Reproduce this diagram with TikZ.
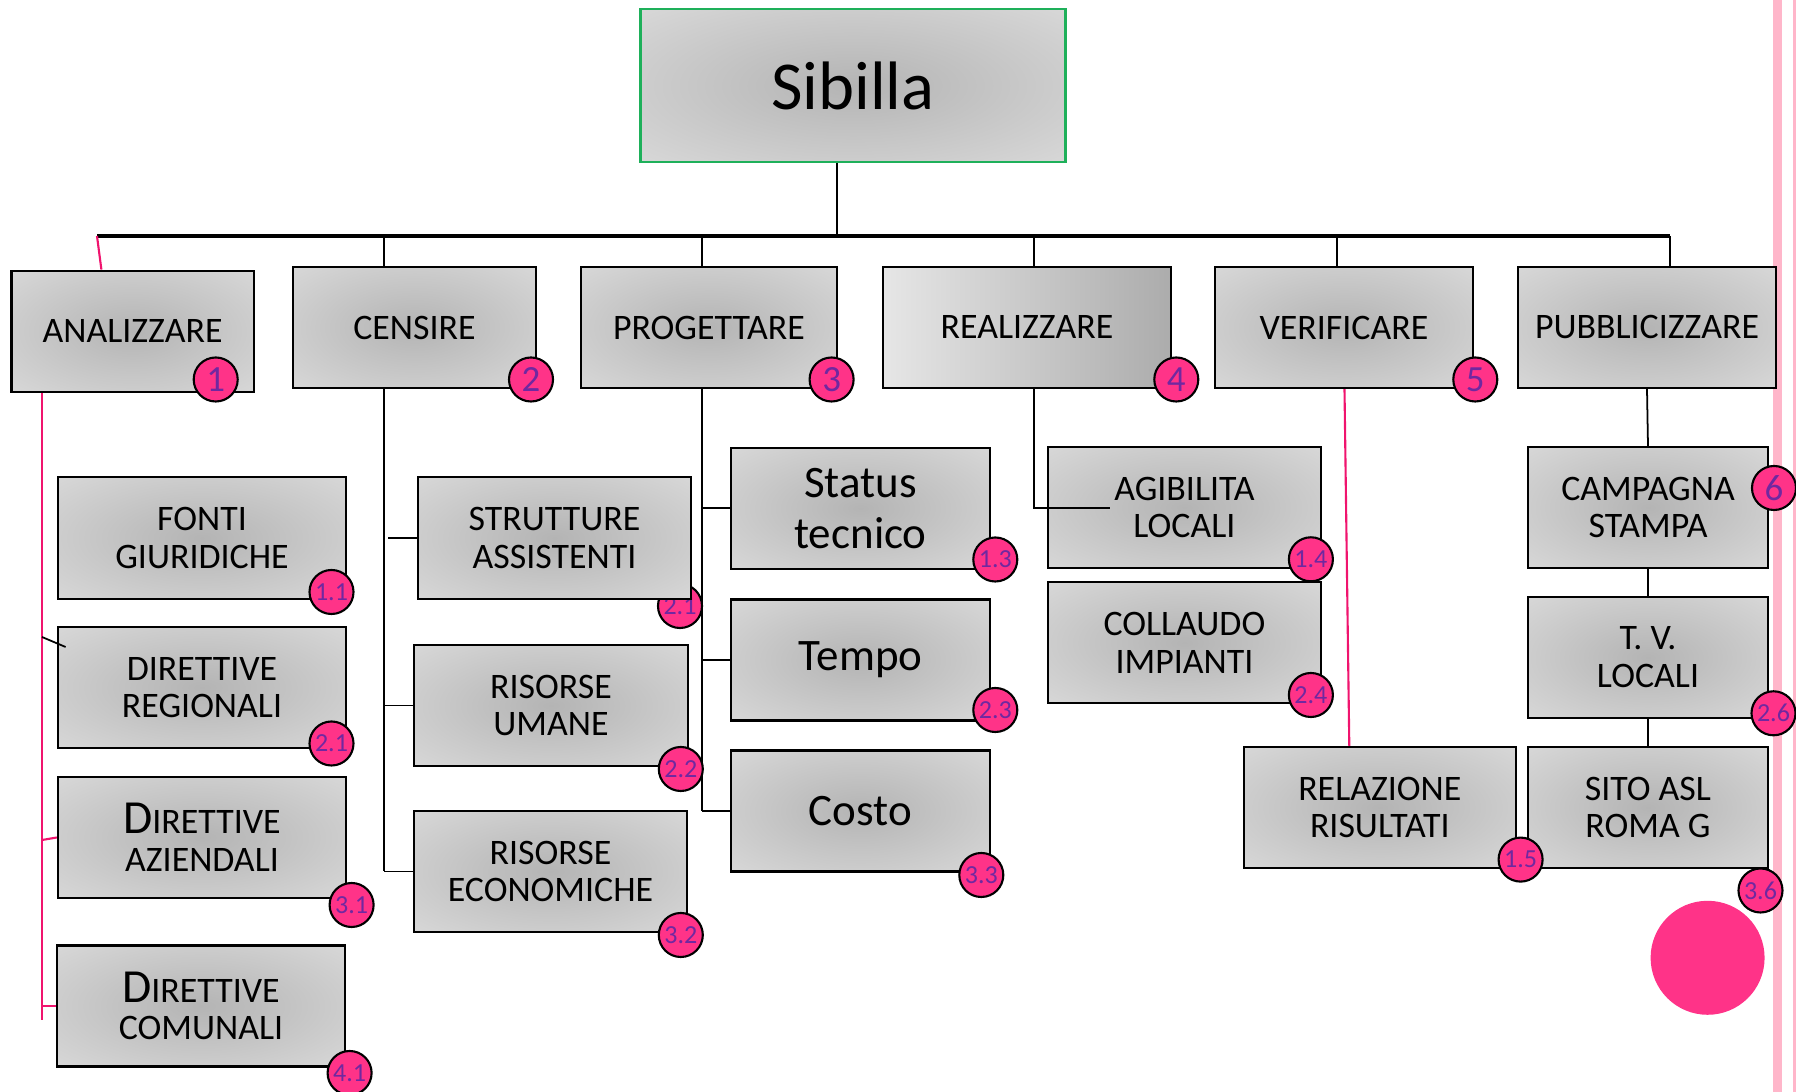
\documentclass[tikz,border=0pt]{standalone}
\usepackage{fontspec}
\setmainfont{Carlito}
\usepackage{tikz}
\usetikzlibrary{positioning,shapes}
\definecolor{boxmid}{RGB}{180,180,180}
\definecolor{boxedge}{RGB}{230,230,230}
\definecolor{boxdark}{RGB}{172,172,172}
\definecolor{hotpink}{RGB}{255,51,136}
\definecolor{linkpink}{RGB}{240,20,110}
\definecolor{stripepink}{RGB}{255,182,202}
\definecolor{numpurple}{RGB}{112,40,160}
\definecolor{sibgreen}{RGB}{30,176,90}
\pgfdeclareradialshading{boxglow}{\pgfpointorigin}{color(0bp)=(boxmid); color(50bp)=(boxedge)}

\begin{document}
\begin{tikzpicture}[
    x=0.01cm, y=-0.01cm,
    box/.style={draw=black, line width=0.6pt, shade, shading=boxglow, inner sep=0pt, align=center,
        minimum height=1.21cm, font=\fontsize{10.2}{10.7}\selectfont},
    bigbox/.style={box, font=\fontsize{12.8}{14.4}\selectfont},
    badge/.style={circle, draw=black, line width=0.6pt, fill=hotpink, text=numpurple, inner sep=0pt,
        minimum size=0.44cm, font=\fontsize{10.5}{11}\selectfont},
    subbadge/.style={badge, font=\fontsize{7.4}{8}\selectfont},
    link/.style={draw=black, line width=0.5pt},
    pinklink/.style={draw=linkpink, line width=0.6pt}
]
    \useasboundingbox (0,0) rectangle (1796,1092);
    \fill[stripepink] (1773,0) rectangle (1782,1092);
    \fill[stripepink] (1792.5,0) rectangle (1796,1092);
    \fill[hotpink] (1707.6,957.8) circle (57);

    \node[box, draw=sibgreen, line width=0.8pt, minimum width=4.24cm, minimum height=1.53cm,
        font=\fontsize{19.5}{22}\selectfont] (sib) at (853,85.5) {Sibilla};

    \node[box, minimum width=2.42cm] (ana) at (132.6,331.2) {ANALIZZARE};
    \node[box, minimum width=2.43cm] (cen) at (414.5,327.5) {CENSIRE};
    \node[box, minimum width=2.56cm] (pro) at (709,327.5) {PROGETTARE};
    \node[box, minimum width=2.88cm, shading=axis, left color=boxedge, right color=boxdark] (rea) at (1027,327.5) {REALIZZARE};
    \node[box, minimum width=2.575cm] (ver) at (1344,327.5) {VERIFICARE};
    \node[box, minimum width=2.57cm] (pub) at (1647,327.5) {PUBBLICIZZARE};

    \node[box, minimum width=2.88cm, minimum height=1.22cm] (fon) at (202,538) {FONTI\\GIURIDICHE};
    \node[box, minimum width=2.88cm] (reg) at (202,687.5) {DIRETTIVE\\REGIONALI};
    \node[box, minimum width=2.88cm] (azi) at (202,837.5) {{\fontsize{13.5}{14}\selectfont D}IRETTIVE\\AZIENDALI};
    \node[box, minimum width=2.88cm] (com) at (201,1006) {{\fontsize{13.5}{14}\selectfont D}IRETTIVE\\COMUNALI};

    \node[subbadge] (s21) at (680,606) {2.1};
    \node[box, minimum width=2.73cm, minimum height=1.22cm] (str) at (554.5,538) {STRUTTURE\\ASSISTENTI};
    \node[box, minimum width=2.74cm] (uma) at (551,705.5) {RISORSE\\UMANE};
    \node[box, minimum width=2.73cm] (eco) at (550.5,871.5) {RISORSE\\ECONOMICHE};

    \node[bigbox, minimum width=2.58cm] (sta) at (860.5,508.3) {Status\\tecnico};
    \node[bigbox, minimum width=2.58cm] (tem) at (860.5,660) {Tempo};
    \node[bigbox, minimum width=2.58cm] (cos) at (860.5,811) {Costo};

    \node[box, minimum width=2.73cm] (agi) at (1184.4,507.4) {AGIBILITA\\LOCALI};
    \node[box, minimum width=2.73cm] (col) at (1184.4,642.8) {COLLAUDO\\IMPIANTI};

    \node[box, minimum width=2.72cm] (rel) at (1379.8,807.4) {RELAZIONE\\RISULTATI};

    \node[box, minimum width=2.40cm] (cam) at (1648,507.4) {CAMPAGNA\\STAMPA};
    \node[box, minimum width=2.40cm] (tvl) at (1648,657.4) {T. V.\\LOCALI};
    \node[box, minimum width=2.40cm] (sit) at (1648,807.5) {SITO ASL\\ROMA G};

    \coordinate (busL) at (97,236);
    \coordinate (busR) at (1670,236);
    \coordinate (sibfoot) at (837,236);
    \draw[line width=1pt] (busL) -- (busR);
    \draw[link] (sibfoot |- sib.south) -- (sibfoot);
    \foreach \n/\x in {cen/384, pro/702, rea/1034, ver/1337, pub/1670}
        \draw[link] (\x,236) -- (\x,236 |- \n.north);
    \draw[pinklink] (busL) -- (101.4,236 |- ana.north);

    \draw[pinklink] (42,0 |- ana.south) -- (42,1020);
    \draw[pinklink] (42,840) -- (azi.west);
    \draw[pinklink] (42,0 |- com.west) -- (com.west);
    \draw[link] (42,637) -- (65.6,647);

    \draw[link] (384,0 |- cen.south) -- (384,0 |- eco.west);
    \draw[link] (388,0 |- str.west) -- (str.west);
    \foreach \n in {uma,eco}
        \draw[link] (384,0 |- \n.west) -- (\n.west);

    \draw[link] (702,0 |- pro.south) -- (702,0 |- cos.west);
    \foreach \n in {sta,tem,cos}
        \draw[link] (702,0 |- \n.west) -- (\n.west);

    \draw[link] (1034,0 |- rea.south) |- (1110,508);

    \draw[pinklink] (1344.5,0 |- ver.south) -- (1349.3,0 |- rel.north);

    \draw[link] (1647,0 |- pub.south) -- (cam.north);
    \draw[link] (cam.south) -- (tvl.north);
    \draw[link] (tvl.south) -- (sit.north);

    \node[badge] (b1) at (215.7,379.5) {1};
    \node[badge] (b2) at (531,379.5) {2};
    \node[badge] (b3) at (831.6,379.5) {3};
    \node[badge] (b4) at (1176.3,379.5) {4};
    \node[badge] (b5) at (1475.3,379.5) {5};
    \node[badge] (b6) at (1774,488) {6};

    \node[subbadge] (a11) at (331.5,592) {1.1};
    \node[subbadge] (a21) at (331.5,743.5) {2.1};
    \node[subbadge] (a31) at (351.6,905) {3.1};
    \node[subbadge] (a41) at (349.6,1073) {4.1};
    \node[subbadge] (s22) at (680.8,769) {2.2};
    \node[subbadge] (s32) at (680.8,935) {3.2};
    \node[subbadge] (p13) at (995.3,559.5) {1.3};
    \node[subbadge] (p23) at (995.3,710) {2.3};
    \node[subbadge] (p33) at (981.3,875) {3.3};
    \node[subbadge] (r14) at (1310.9,559.3) {1.4};
    \node[subbadge] (r24) at (1310.9,695) {2.4};
    \node[subbadge] (v15) at (1520.6,859.6) {1.5};
    \node[subbadge] (u26) at (1773.5,713.3) {2.6};
    \node[subbadge] (u36) at (1760.5,890.5) {3.6};
\end{tikzpicture}
\end{document}
